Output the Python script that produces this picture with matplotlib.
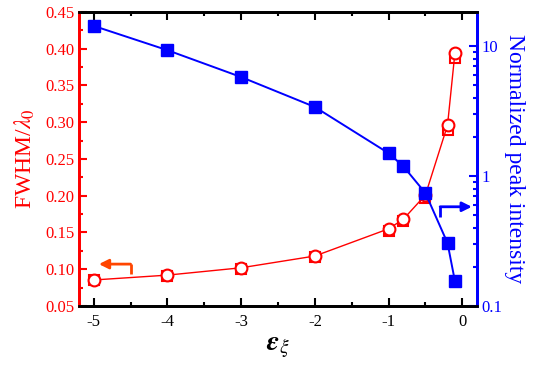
import matplotlib
matplotlib.use("Agg")
import matplotlib.pyplot as plt
from matplotlib.ticker import MultipleLocator, LogLocator, NullFormatter, FixedLocator, FixedFormatter

plt.rcParams['font.family'] = ['Liberation Serif', 'DejaVu Serif']
plt.rcParams['mathtext.fontset'] = 'stix'
plt.rcParams['axes.unicode_minus'] = False

strain = [-5, -4, -3, -2, -1, -0.8, -0.5, -0.2, -0.1]
fwhm_circ = [0.0854, 0.092, 0.102, 0.118, 0.155, 0.168, 0.201, 0.296, 0.394]
fwhm_sq = [0.0850, 0.091, 0.101, 0.117, 0.152, 0.166, 0.197, 0.289, 0.387]
intensity = [14.3, 9.3, 5.78, 3.40, 1.50, 1.19, 0.74, 0.305, 0.156]

red = '#FF0000'
blue = '#0000FF'

fig = plt.figure(figsize=(5.45, 3.75), dpi=100)
ax = fig.add_axes([79/545, 1 - 306/375, (477-79)/545, (306-12)/375])
ax2 = ax.twinx()

ax.plot(strain, fwhm_sq, 's', color=red, mfc='white', mec=red, ms=7, mew=1.5, zorder=3)
ax.plot(strain, fwhm_circ, 'o-', color=red, mfc='white', mec=red, ms=8.5, mew=1.5, lw=1, zorder=4)
ax2.plot(strain, intensity, 's-', color=blue, mfc=blue, mec=blue, ms=8, lw=1.4)

ax.set_xlim(-5.2, 0.2)
ax.set_ylim(0.05, 0.45)
ax2.set_yscale('log')
ax2.set_ylim(0.1, 18.3)

# arrows
ax.annotate('', xy=(-4.93, 0.107), xytext=(-4.5, 0.107),
            arrowprops=dict(arrowstyle='-|>', color='#FF4500', lw=2, mutation_scale=14, shrinkA=0, shrinkB=0))
ax.plot([-4.5, -4.5], [0.0935, 0.107], color='#FF4500', lw=2, solid_capstyle='butt')
ax.annotate('', xy=(0.13, 0.185), xytext=(-0.3, 0.185),
            arrowprops=dict(arrowstyle='-|>', color=blue, lw=2, mutation_scale=14, shrinkA=0, shrinkB=0))
ax.plot([-0.3, -0.3], [0.171, 0.185], color=blue, lw=2, solid_capstyle='butt')

ax.xaxis.set_major_locator(MultipleLocator(1))
ax.xaxis.set_minor_locator(MultipleLocator(0.5))
ax.yaxis.set_major_locator(MultipleLocator(0.05))
ax.yaxis.set_minor_locator(MultipleLocator(0.025))
ax.yaxis.set_major_formatter(matplotlib.ticker.FormatStrFormatter('%.2f'))

ax.tick_params(axis='x', which='both', direction='in', top=True, colors='black', labelsize=12, width=1.5)
ax.tick_params(axis='x', which='major', length=6, pad=6)
ax.tick_params(axis='x', which='minor', length=3)
ax.tick_params(axis='y', which='both', direction='in', colors=red, labelsize=12, width=1.5)
ax.tick_params(axis='y', which='major', length=6)
ax.tick_params(axis='y', which='minor', length=3)

ax2.yaxis.set_major_locator(FixedLocator([0.1, 1, 10]))
ax2.yaxis.set_major_formatter(FixedFormatter(['0.1', '1', '10']))
ax2.yaxis.set_minor_locator(LogLocator(base=10, subs=range(2, 10)))
ax2.yaxis.set_minor_formatter(NullFormatter())
ax2.tick_params(axis='y', which='both', direction='in', colors=blue, labelsize=12, width=1.5)
ax2.tick_params(axis='y', which='major', length=6)
ax2.tick_params(axis='y', which='minor', length=3)

for a in (ax, ax2):
    for s in a.spines.values():
        s.set_linewidth(2)
    a.spines['left'].set_color(red)
    a.spines['right'].set_color(blue)
    a.spines['top'].set_color('black')
    a.spines['bottom'].set_color('black')

ax.set_ylabel(r'FWHM/$\lambda_0$', color=red, fontsize=17, labelpad=6)
ax2.set_ylabel('Normalized peak intensity', color=blue, fontsize=17, rotation=270, labelpad=16)
ax.set_xlabel(r'$\mathbfit{\varepsilon}_{\xi}$', fontsize=20, labelpad=4)

fig.savefig('out.png', dpi=100)
